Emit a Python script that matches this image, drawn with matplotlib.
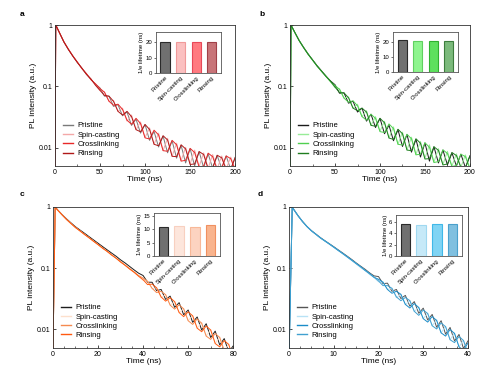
import numpy as np
import matplotlib
matplotlib.use("Agg")
import matplotlib.pyplot as plt
from matplotlib.ticker import FixedLocator, NullLocator, MultipleLocator

plt.rcParams['font.family'] = ['Liberation Sans', 'DejaVu Sans']

labels = ["Pristine", "Spin-casting", "Crosslinking", "Rinsing"]

# ---------------- Panel a ----------------
t_a = [0, 1] + list(range(5, 201, 5))
pristine_a = [0.003, 1.0, 0.75, 0.53, 0.40, 0.31, 0.245, 0.196, 0.158, 0.129, 0.108,
              0.094, 0.069, 0.069, 0.047, 0.050, 0.033, 0.038, 0.023, 0.029, 0.0172,
              0.0238, 0.0131, 0.0183, 0.0102, 0.0154, 0.0082, 0.0129, 0.0067, 0.0109, 0.0056,
              0.0096, 0.0050, 0.0086, 0.0047, 0.0079, 0.0046, 0.0074, 0.0046, 0.0073, 0.0044, 0.0069]
spin_a = [0.003, 1.0, 0.76, 0.535, 0.405, 0.312, 0.247, 0.197, 0.160, 0.131, 0.106,
          0.085, 0.081, 0.057, 0.059, 0.039, 0.044, 0.027, 0.034, 0.0196, 0.0262,
          0.0146, 0.021, 0.0113, 0.0172, 0.0089, 0.0142, 0.0072, 0.0118, 0.0061, 0.0101,
          0.0054, 0.0091, 0.0049, 0.0082, 0.0046, 0.0077, 0.0045, 0.0073, 0.0045, 0.0070, 0.0044]
cross_a = [0.003, 1.0, 0.755, 0.532, 0.402, 0.311, 0.248, 0.194, 0.161, 0.128, 0.110,
           0.092, 0.080, 0.057, 0.049, 0.051, 0.042, 0.028, 0.024, 0.030, 0.0247,
           0.0144, 0.0138, 0.0192, 0.0161, 0.0089, 0.0087, 0.0131, 0.0111, 0.0060, 0.0062,
           0.0097, 0.0083, 0.0048, 0.0050, 0.0081, 0.0071, 0.0044, 0.0047, 0.0073, 0.0066, 0.0043]
rinse_a = [0.003, 1.0, 0.752, 0.528, 0.398, 0.309, 0.243, 0.198, 0.156, 0.132, 0.104,
           0.086, 0.071, 0.069, 0.057, 0.039, 0.034, 0.039, 0.032, 0.0196, 0.0181,
           0.0238, 0.0198, 0.0113, 0.0107, 0.0156, 0.0133, 0.0072, 0.0071, 0.0111, 0.0095,
           0.0053, 0.0054, 0.0086, 0.0077, 0.0045, 0.0047, 0.0075, 0.0068, 0.0044, 0.0044, 0.0069]
life_a = [20.0, 20.0, 20.5, 20.0]

# ---------------- Panel b ----------------
t_b = [0, 1] + list(range(5, 201, 5))
pristine_b = [0.003, 1.0, 0.77, 0.562, 0.432, 0.338, 0.270, 0.217, 0.178, 0.146, 0.122,
              0.106, 0.077, 0.078, 0.053, 0.057, 0.038, 0.044, 0.027, 0.035, 0.0212,
              0.030, 0.0168, 0.0232, 0.0129, 0.0196, 0.0104, 0.0163, 0.0084, 0.0137, 0.0070,
              0.0119, 0.0060, 0.0103, 0.0056, 0.0091, 0.0052, 0.0082, 0.0050, 0.0078, 0.0047, 0.0073]
spin_b = [0.003, 1.0, 0.768, 0.558, 0.428, 0.333, 0.266, 0.213, 0.174, 0.144, 0.118,
          0.095, 0.091, 0.064, 0.067, 0.044, 0.051, 0.032, 0.040, 0.023, 0.032,
          0.0185, 0.0269, 0.0143, 0.0218, 0.0113, 0.0179, 0.0091, 0.0148, 0.0077, 0.0126,
          0.0067, 0.0111, 0.0058, 0.0096, 0.0053, 0.0087, 0.0050, 0.0079, 0.0048, 0.0076, 0.0046]
cross_b = [0.003, 1.0, 0.772, 0.561, 0.431, 0.336, 0.268, 0.216, 0.175, 0.147, 0.119,
           0.103, 0.089, 0.064, 0.055, 0.058, 0.048, 0.032, 0.028, 0.035, 0.030,
           0.0182, 0.0176, 0.0243, 0.0204, 0.0113, 0.0110, 0.0165, 0.0139, 0.0076, 0.0078,
           0.0120, 0.0101, 0.0057, 0.0059, 0.0092, 0.0080, 0.0049, 0.0051, 0.0078, 0.0071, 0.0045]
rinse_b = [0.003, 1.0, 0.769, 0.559, 0.429, 0.334, 0.269, 0.214, 0.177, 0.144, 0.121,
           0.097, 0.079, 0.078, 0.065, 0.044, 0.040, 0.044, 0.038, 0.023, 0.0223,
           0.030, 0.0254, 0.0143, 0.0136, 0.0199, 0.0168, 0.0091, 0.0089, 0.0139, 0.0118,
           0.0065, 0.0066, 0.0103, 0.0090, 0.0052, 0.0054, 0.0083, 0.0074, 0.0047, 0.0047, 0.0073]
life_b = [21.0, 20.7, 20.7, 20.6]

# ---------------- Panel c ----------------
t_c = [0, 1] + list(range(2, 81, 2))
pristine_c = [0.004, 1.0, 0.9, 0.755, 0.64, 0.55, 0.475, 0.42, 0.372, 0.328, 0.29,
              0.256, 0.226, 0.2, 0.177, 0.157, 0.137, 0.122, 0.107, 0.094, 0.083,
              0.076, 0.059, 0.059, 0.043, 0.045, 0.031, 0.035, 0.023, 0.0274, 0.0174,
              0.0208, 0.0131, 0.0160, 0.0098, 0.0124, 0.0074, 0.0094, 0.0056, 0.0071, 0.0043, 0.0054]
spin_c = [0.004, 1.0, 0.895, 0.745, 0.625, 0.535, 0.46, 0.405, 0.356, 0.313, 0.276,
          0.242, 0.213, 0.188, 0.165, 0.145, 0.127, 0.111, 0.098, 0.085, 0.075,
          0.063, 0.062, 0.046, 0.048, 0.033, 0.037, 0.025, 0.0285, 0.0187, 0.022,
          0.0139, 0.0170, 0.0105, 0.0131, 0.0078, 0.0100, 0.0059, 0.0076, 0.0045, 0.0058, 0.0034]
cross_c = [0.004, 1.0, 0.898, 0.748, 0.628, 0.538, 0.463, 0.407, 0.358, 0.316, 0.278,
           0.244, 0.215, 0.189, 0.167, 0.146, 0.129, 0.112, 0.099, 0.087, 0.076,
           0.069, 0.061, 0.047, 0.040, 0.042, 0.037, 0.025, 0.0215, 0.0253, 0.0217,
           0.0139, 0.0121, 0.0149, 0.0126, 0.0078, 0.0069, 0.0086, 0.0074, 0.0045, 0.0039, 0.0050]
rinse_c = [0.004, 1.0, 0.897, 0.746, 0.626, 0.536, 0.461, 0.406, 0.355, 0.314, 0.275,
           0.243, 0.212, 0.189, 0.164, 0.146, 0.126, 0.112, 0.097, 0.086, 0.074,
           0.065, 0.054, 0.055, 0.048, 0.034, 0.029, 0.033, 0.0285, 0.0189, 0.0162,
           0.0194, 0.0167, 0.0105, 0.0092, 0.0114, 0.0098, 0.0059, 0.0052, 0.0066, 0.0057, 0.0034]
life_c = [10.8, 11.2, 11.0, 11.5]

# ---------------- Panel d ----------------
t_d = [0, 0.7] + list(range(1, 41))
pristine_d = [0.004, 1.0, 0.92, 0.72, 0.58, 0.48, 0.41, 0.36, 0.316, 0.281, 0.251,
              0.224, 0.199, 0.177, 0.157, 0.139, 0.122, 0.108, 0.096, 0.084, 0.075,
              0.073, 0.056, 0.057, 0.042, 0.045, 0.032, 0.036, 0.024, 0.0285, 0.0184,
              0.0223, 0.0143, 0.0176, 0.0109, 0.0139, 0.0084, 0.0108, 0.0065, 0.0083, 0.0049, 0.0065]
spin_d = [0.004, 1.0, 0.915, 0.715, 0.575, 0.475, 0.405, 0.355, 0.31, 0.276, 0.246,
          0.218, 0.193, 0.171, 0.151, 0.133, 0.117, 0.102, 0.091, 0.079, 0.070,
          0.060, 0.060, 0.045, 0.047, 0.033, 0.0375, 0.0254, 0.0296, 0.0196, 0.0232,
          0.0150, 0.0185, 0.0115, 0.0145, 0.0088, 0.0113, 0.0068, 0.0088, 0.0052, 0.0067, 0.0041]
cross_d = [0.004, 1.0, 0.918, 0.718, 0.578, 0.478, 0.408, 0.358, 0.313, 0.279, 0.248,
           0.221, 0.195, 0.174, 0.153, 0.136, 0.119, 0.106, 0.092, 0.082, 0.071,
           0.066, 0.059, 0.045, 0.039, 0.042, 0.0375, 0.0257, 0.0224, 0.0265, 0.0228,
           0.0150, 0.0132, 0.0163, 0.0140, 0.0088, 0.0078, 0.0100, 0.0086, 0.0052, 0.0046, 0.0060]
rinse_d = [0.004, 1.0, 0.917, 0.717, 0.577, 0.477, 0.407, 0.357, 0.312, 0.278, 0.249,
           0.220, 0.196, 0.173, 0.154, 0.135, 0.120, 0.105, 0.093, 0.081, 0.072,
           0.062, 0.052, 0.052, 0.047, 0.034, 0.0295, 0.0333, 0.0296, 0.0198, 0.0170,
           0.0208, 0.0182, 0.0115, 0.0102, 0.0128, 0.0111, 0.0068, 0.0061, 0.0077, 0.0066, 0.0041]
life_d = [5.6, 5.5, 5.6, 5.6]

panels = [
    dict(tag="a", t=t_a, ys=[pristine_a, spin_a, cross_a, rinse_a], life=life_a,
         line_colors=["#7a7a7a", "#f4a8a8", "#e82828", "#b01818"],
         bar_fill=["#707070", "#fbc0c0", "#ff7a80", "#c87478"],
         bar_edge=["#2a2a2a", "#f09a9a", "#e84858", "#a04048"],
         xlim=(0, 200), xmajor=50, xminor=25, ilim=(0, 26.7), iticks=[0, 10, 20],
         rect=[0.112, 0.562, 0.368, 0.372], inset=[0.318, 0.807, 0.133, 0.108],
         lab=(20, 15)),
    dict(tag="b", t=t_b, ys=[pristine_b, spin_b, cross_b, rinse_b], life=life_b,
         line_colors=["#1a1a1a", "#98ec98", "#50d050", "#1f7d1f"],
         bar_fill=["#707070", "#8ef58e", "#5ee05e", "#7cba7c"],
         bar_edge=["#2a2a2a", "#60d060", "#30b030", "#3d7d3d"],
         xlim=(0, 200), xmajor=50, xminor=25, ilim=(0, 26.7), iticks=[0, 10, 20],
         rect=[0.592, 0.562, 0.367, 0.372], inset=[0.802, 0.810, 0.133, 0.106],
         lab=(259, 15)),
    dict(tag="c", t=t_c, ys=[pristine_c, spin_c, cross_c, rinse_c], life=life_c,
         line_colors=["#1e1e1e", "#fde0cc", "#f58a50", "#ff5a10"],
         bar_fill=["#707070", "#fde6dc", "#fcd3c0", "#f9b48e"],
         bar_edge=["#2a2a2a", "#f8d0c0", "#f8b898", "#f09060"],
         xlim=(0, 80), xmajor=20, xminor=5, ilim=(0, 16.2), iticks=[0, 5, 10, 15],
         rect=[0.108, 0.082, 0.368, 0.372], inset=[0.314, 0.325, 0.135, 0.113],
         lab=(20, 194)),
    dict(tag="d", t=t_d, ys=[pristine_d, spin_d, cross_d, rinse_d], life=life_d,
         line_colors=["#555555", "#b8e2f5", "#1a8cc8", "#40a0d0"],
         bar_fill=["#707070", "#c6e9f8", "#80d4f4", "#80c0e0"],
         bar_edge=["#2a2a2a", "#a0d8f0", "#40b8e8", "#4aa0cc"],
         xlim=(0, 40), xmajor=10, xminor=2.5, ilim=(0, 7.3), iticks=[0, 2, 4, 6],
         rect=[0.590, 0.082, 0.365, 0.372], inset=[0.808, 0.325, 0.135, 0.108],
         lab=(258, 194)),
]

W, H = 490, 379
fig = plt.figure(figsize=(W / 100, H / 100), dpi=100)
fig.patch.set_facecolor("white")

for p in panels:
    ax = fig.add_axes(p["rect"])
    for y, c, lbl in zip(p["ys"], p["line_colors"], labels):
        ax.plot(p["t"], y, color=c, lw=0.7, label=lbl)
    ax.set_yscale("log")
    ax.set_ylim(0.005, 1.0)
    ax.set_xlim(*p["xlim"])
    ax.yaxis.set_major_locator(FixedLocator([0.01, 0.1, 1]))
    ax.yaxis.set_minor_locator(NullLocator())
    ax.set_yticklabels(["0.01", "0.1", "1"])
    ax.xaxis.set_major_locator(MultipleLocator(p["xmajor"]))
    ax.xaxis.set_minor_locator(MultipleLocator(p["xminor"]))
    ax.tick_params(axis="both", which="major", direction="in", length=2.5, width=0.5,
                   labelsize=5, pad=2)
    ax.tick_params(axis="x", which="minor", direction="in", length=1.5, width=0.4)
    for s in ax.spines.values():
        s.set_linewidth(0.6)
        s.set_color("#333333")
    ax.set_xlabel("Time (ns)", fontsize=6, labelpad=0)
    ax.set_ylabel("PL intensity (a.u.)", fontsize=6, labelpad=1)
    leg = ax.legend(loc="lower left", bbox_to_anchor=(0.02, 0.03), fontsize=5.5,
                    frameon=False, handlelength=1.3, handletextpad=0.6,
                    labelspacing=0.25, borderaxespad=0.2)
    for h in leg.get_lines():
        h.set_linewidth(1.0)
    fig.text(p["lab"][0] / W, 1 - p["lab"][1] / H, p["tag"], fontsize=6,
             fontweight="bold", ha="left", va="center")

    ins = fig.add_axes(p["inset"])
    xs = np.arange(len(labels))
    ins.bar(xs, p["life"], width=0.6, color=p["bar_fill"], edgecolor=p["bar_edge"],
            linewidth=0.8)
    ins.set_xlim(-0.6, 3.6)
    ins.set_ylim(*p["ilim"])
    ins.set_yticks(p["iticks"])
    ins.set_xticks(xs)
    ins.set_xticklabels(labels, rotation=45, ha="right", rotation_mode="anchor",
                        fontsize=4.3)
    ins.tick_params(axis="y", direction="out", length=1.5, width=0.4, labelsize=4.3, pad=1)
    ins.tick_params(axis="x", length=0, pad=1.5)
    ins.set_ylabel("1/e lifetime (ns)", fontsize=4.3, labelpad=1)
    for s in ins.spines.values():
        s.set_linewidth(0.6)
        s.set_color("#555555")

fig.savefig("out.png", dpi=100)
